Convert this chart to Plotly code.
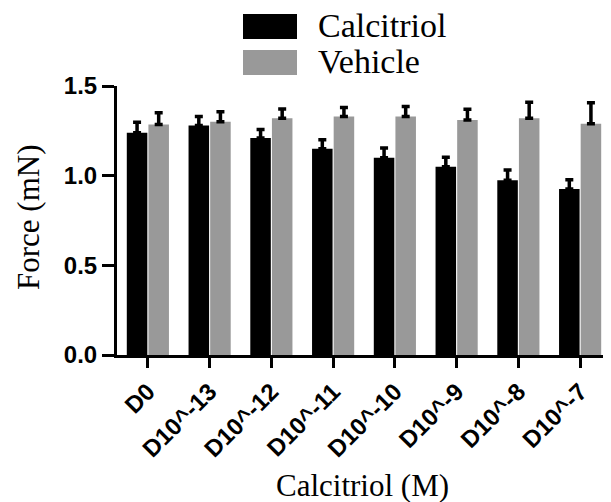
import plotly.graph_objects as go

categories = ["D0", "D10^-13", "D10^-12", "D10^-11", "D10^-10", "D10^-9", "D10^-8", "D10^-7"]
series_names = ["Calcitriol", "Vehicle"]
calcitriol = [1.24, 1.28, 1.21, 1.15, 1.10, 1.05, 0.975, 0.925]
calcitriol_err = [0.058, 0.050, 0.047, 0.050, 0.054, 0.052, 0.056, 0.052]
vehicle = [1.285, 1.30, 1.32, 1.33, 1.33, 1.31, 1.32, 1.29]
vehicle_err = [0.066, 0.056, 0.052, 0.050, 0.056, 0.061, 0.089, 0.117]
y_ticks = [0.0, 0.5, 1.0, 1.5]
y_tick_labels = ["0.0", "0.5", "1.0", "1.5"]
x_title = "Calcitriol (M)"
y_title = "Force (mN)"
colors = ["#000000", "#999999"]

# the page body adds an 8px margin, so the figure is sized and placed to compensate
OFF = 8
W, H = 611 - OFF, 502 - OFF
L, R, T, B = 117 - OFF, 0, 86 - OFF, 502 - 355

fig = go.Figure()
for name, vals, errs, col in [(series_names[0], calcitriol, calcitriol_err, colors[0]),
                              (series_names[1], vehicle, vehicle_err, colors[1])]:
    fig.add_trace(go.Bar(
        x=categories, y=vals, name=name, marker=dict(color=col, line=dict(width=0)),
        error_y=dict(type="data", array=errs, arrayminus=[0] * len(errs), symmetric=False,
                     color="#000000", thickness=3.5, width=4),
        showlegend=False,
    ))

fig.update_layout(
    width=W, height=H,
    margin=dict(l=L, r=R, t=T, b=B),
    paper_bgcolor="white", plot_bgcolor="white",
    barmode="group", bargap=0.30, bargroupgap=0.05,
    xaxis=dict(
        range=[-0.5, 7.5], showgrid=False, zeroline=False, automargin=False,
        showline=True, linecolor="black", linewidth=3,
        ticks="outside", ticklen=10, tickwidth=3, tickcolor="black",
        tickangle=-45,
        tickfont=dict(family="Liberation Sans", size=24, color="black", weight="bold"),
    ),
    yaxis=dict(
        range=[0, 1.5], showgrid=False, zeroline=False, automargin=False,
        showline=True, linecolor="black", linewidth=3,
        ticks="outside", ticklen=12, tickwidth=3, tickcolor="black",
        tickvals=y_ticks, ticktext=y_tick_labels,
        tickfont=dict(family="Liberation Sans", size=24, color="black", weight="bold"),
    ),
)

pw, ph = W - L - R, H - T - B
def px(x):  # reference pixel x -> paper fraction
    return (x - OFF - L) / pw
def py(y):  # reference pixel y -> paper fraction
    return (H - B - (y - OFF)) / ph

serif = "Liberation Serif"
fig.add_annotation(xref="paper", yref="paper", x=px(362), y=py(505),
                   xanchor="center", yanchor="bottom", showarrow=False, text=x_title,
                   font=dict(family=serif, size=31, color="black"))
fig.add_annotation(xref="paper", yref="paper", x=px(28), y=py(218), textangle=-90,
                   xanchor="center", yanchor="middle", showarrow=False, text=y_title,
                   font=dict(family=serif, size=31, color="black"))

legend_rows = [(14, 39, 26), (50, 75, 61)]
for (y0, y1, yc), name, col in zip(legend_rows, series_names, colors):
    fig.add_shape(type="rect", xref="paper", yref="paper",
                  x0=px(243), x1=px(297), y0=py(y1), y1=py(y0),
                  fillcolor=col, line=dict(width=0))
    fig.add_annotation(xref="paper", yref="paper", x=px(316), y=py(yc),
                       xanchor="left", yanchor="middle", showarrow=False, text=name,
                       font=dict(family=serif, size=34, color="black"))

fig.write_html("out.html")
